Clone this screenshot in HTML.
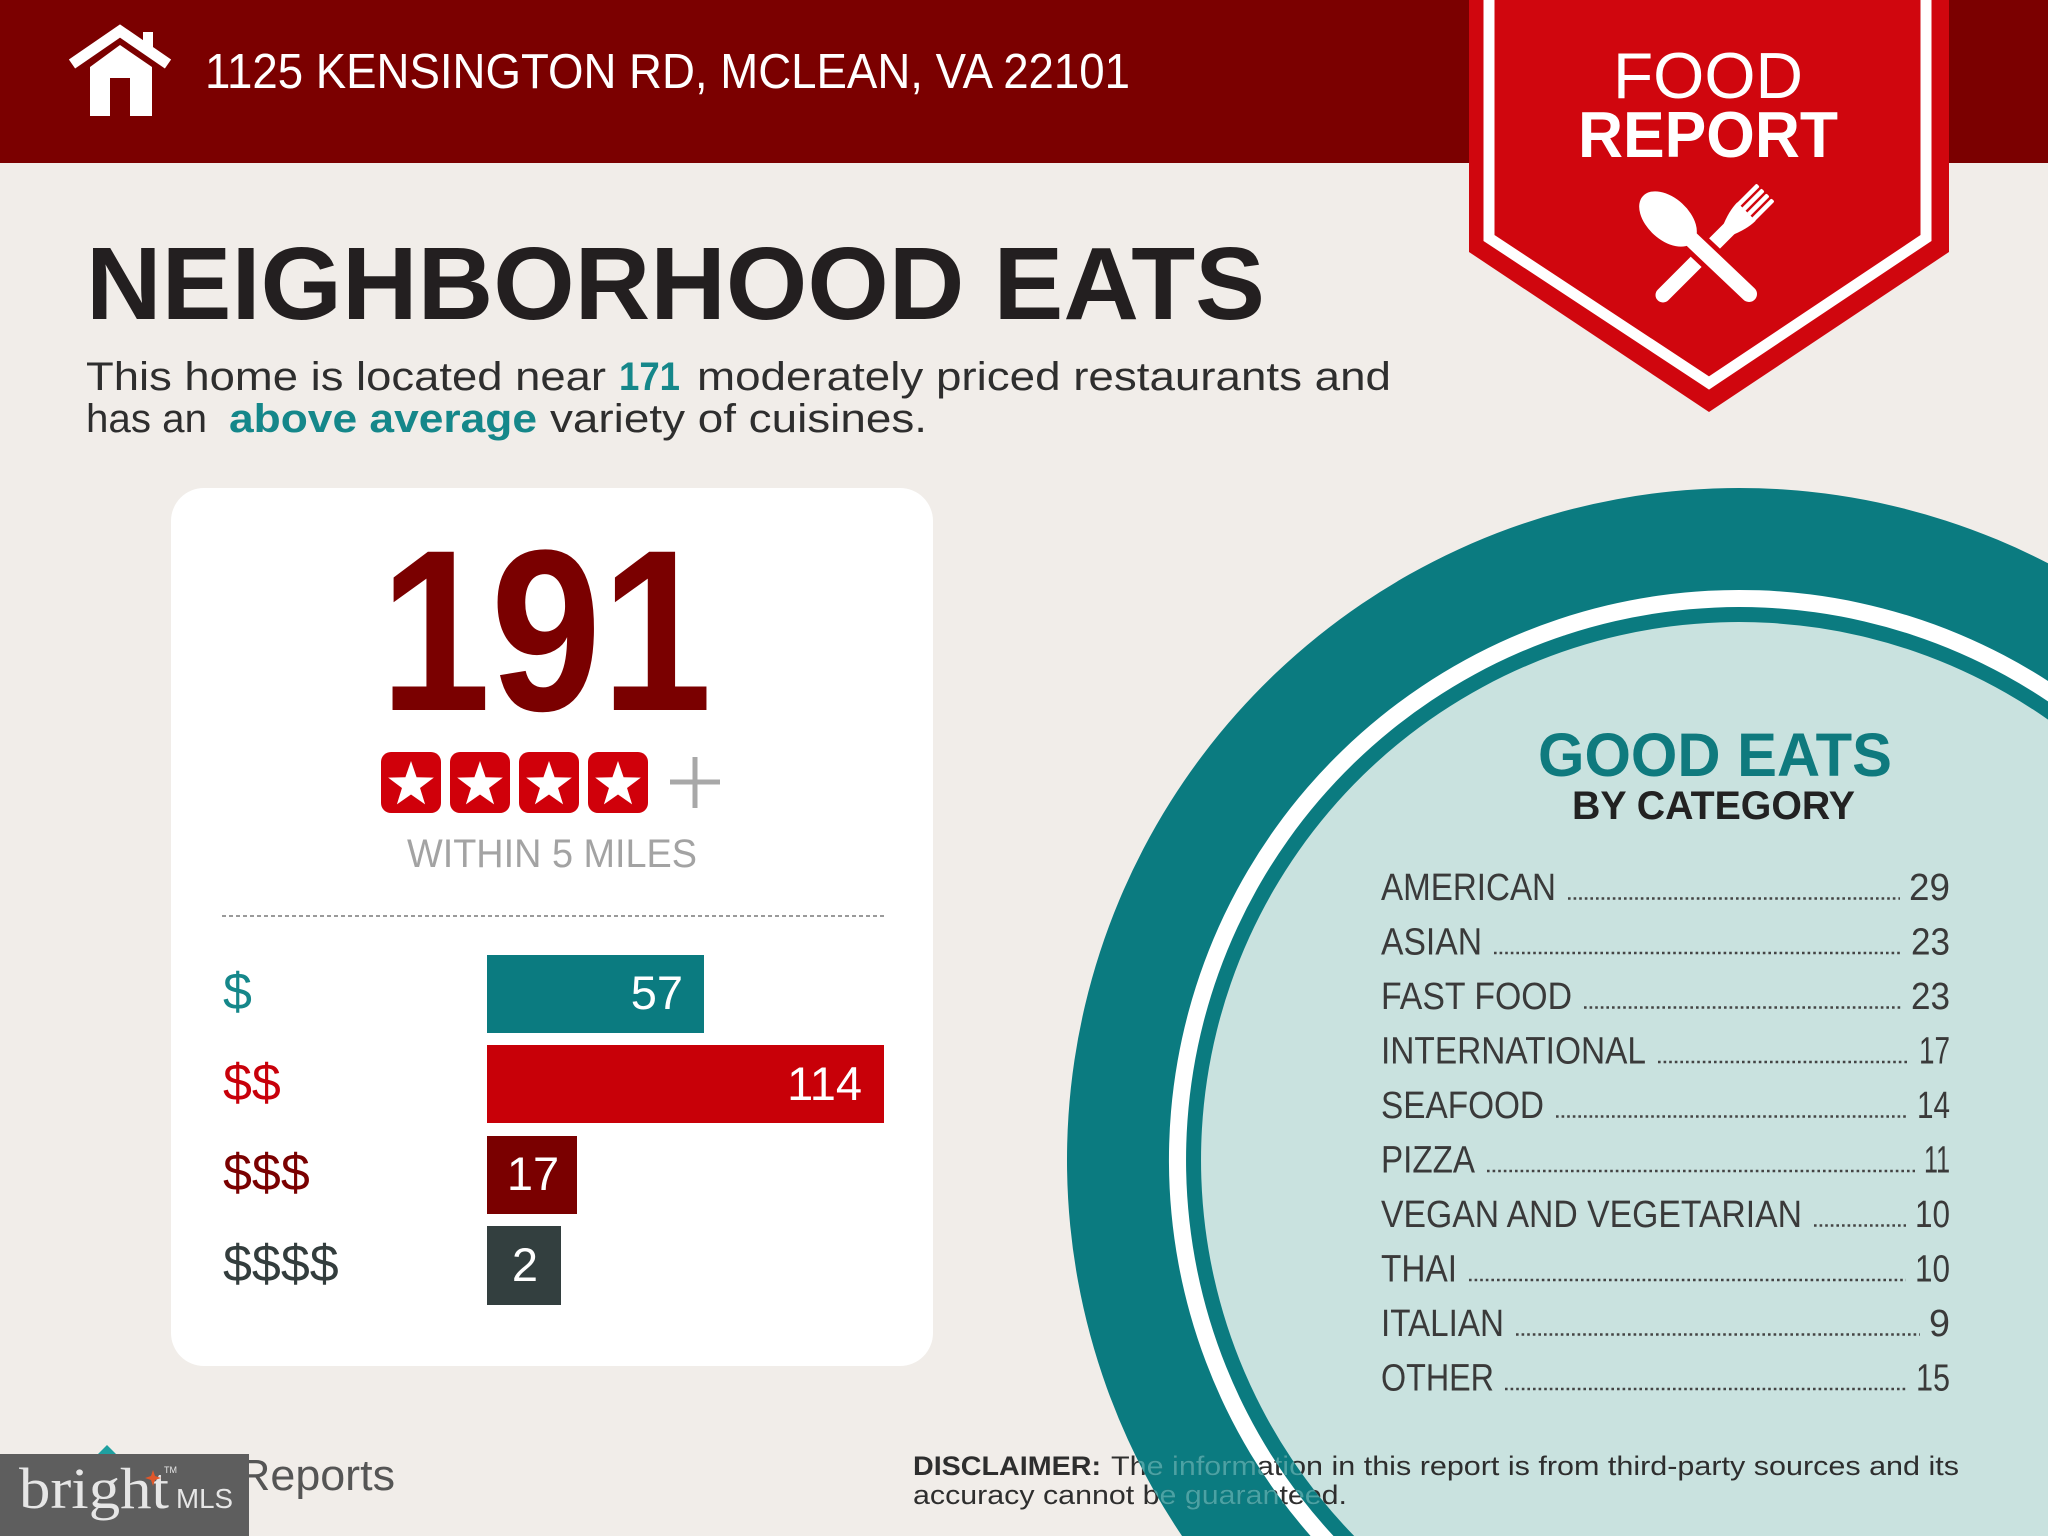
<!DOCTYPE html>
<html><head><meta charset="utf-8"><style>html,body{margin:0;padding:0;background:#f1ede9;width:2048px;height:1536px;overflow:hidden;}svg{display:block}</style></head>
<body>
<svg width="2048" height="1536" viewBox="0 0 2048 1536" xmlns="http://www.w3.org/2000/svg" font-family="'Liberation Sans', Arial, sans-serif" overflow="hidden">
<defs>
<clipPath id="ringclip">
<path clip-rule="evenodd" d="M1182.04,1536 A672,672 0 0,1 2048,563.25 L2048,1536 Z M1310.6,1536 A570,570 0 0,1 2048,681 L2048,1536 Z M1333.5,1536 A553,553 0 0,1 2048,701.4 L2048,1536 Z M1354.2,1536 A538,538 0 0,1 2048,719.6 L2048,1536 Z"/>
</clipPath>
</defs>
<rect x="0" y="0" width="2048" height="1536" fill="#f1ede9"/>
<!-- header -->
<rect x="0" y="0" width="2048" height="163" fill="#7b0000"/>
<!-- house icon -->
<g fill="#fff">
<polyline points="72,64 120,31 168,64" fill="none" stroke="#fff" stroke-width="11" stroke-linejoin="miter"/>
<rect x="143" y="32" width="10" height="20"/>
<polygon points="90,67 120,45 152,67 152,116 130,116 130,78 110,78 110,116 90,116"/>
</g>
<text x="205" y="88" font-size="49" fill="#fff" textLength="925" lengthAdjust="spacingAndGlyphs">1125 KENSINGTON RD, MCLEAN, VA 22101</text>

<!-- banner -->
<polygon points="1469,0 1949,0 1949,252 1709,412 1469,252" fill="#d0060e"/>
<polyline points="1489,0 1489,238 1709,383 1926,238 1926,0" fill="none" stroke="#fff" stroke-width="11" stroke-linejoin="miter"/>
<text x="1613" y="98" font-size="65" fill="#fff" textLength="190" lengthAdjust="spacingAndGlyphs">FOOD</text>
<text x="1578" y="157" font-size="65" font-weight="bold" fill="#fff" textLength="260" lengthAdjust="spacingAndGlyphs">REPORT</text>
<!-- fork -->
<g transform="translate(1663,295) rotate(-45)" fill="#fff">
<line x1="0" y1="0" x2="96" y2="0" stroke="#fff" stroke-width="15" stroke-linecap="round"/>
<path d="M90,-6 Q106,-13 118,-13 L118,13 Q106,13 90,6 Z"/>
<rect x="115" y="-12.75" width="30" height="4.5" rx="1.5"/>
<rect x="115" y="-5.75" width="30" height="4.5" rx="1.5"/>
<rect x="115" y="1.25" width="30" height="4.5" rx="1.5"/>
<rect x="115" y="8.25" width="30" height="4.5" rx="1.5"/>
</g>
<!-- spoon -->
<line x1="1692" y1="240" x2="1749" y2="294" stroke="#d0060e" stroke-width="26" stroke-linecap="round"/>
<line x1="1690" y1="238" x2="1749" y2="294" stroke="#fff" stroke-width="16" stroke-linecap="round"/>
<ellipse cx="1668" cy="219" rx="34" ry="21" fill="#fff" transform="rotate(42.4 1668 219)"/>

<!-- title -->
<text x="86" y="319" font-size="103" font-weight="bold" fill="#231f20" textLength="1179" lengthAdjust="spacingAndGlyphs">NEIGHBORHOOD EATS</text>
<g font-size="40" fill="#2e2e2e">
<text x="86" y="390" textLength="520" lengthAdjust="spacingAndGlyphs">This home is located near</text>
<text x="619" y="390" font-weight="bold" fill="#15878a" textLength="61" lengthAdjust="spacingAndGlyphs">171</text>
<text x="697" y="390" textLength="694" lengthAdjust="spacingAndGlyphs">moderately priced restaurants and</text>
<text x="86" y="432" textLength="121" lengthAdjust="spacingAndGlyphs">has an</text>
<text x="229" y="432" font-weight="bold" fill="#15878a" textLength="308" lengthAdjust="spacingAndGlyphs">above average</text>
<text x="550" y="432" textLength="377" lengthAdjust="spacingAndGlyphs">variety of cuisines.</text>
</g>

<!-- card -->
<rect x="171" y="488" width="762" height="878" rx="33" ry="33" fill="#ffffff"/>
<text x="380" y="710" font-size="230" font-weight="bold" fill="#7a0000" textLength="332" lengthAdjust="spacingAndGlyphs">191</text>
<g fill="#d0000a">
<rect x="381" y="752" width="60" height="61" rx="10"/>
<rect x="450" y="752" width="60" height="61" rx="10"/>
<rect x="519" y="752" width="60" height="61" rx="10"/>
<rect x="588" y="752" width="60" height="61" rx="10"/>
</g>
<g fill="#fff">
<path transform="translate(411,785)" d="M0,-24 L5.58,-7.69 L22.83,-7.42 L9.04,2.94 L14.11,19.42 L0,9.5 L-14.11,19.42 L-9.04,2.94 L-22.83,-7.42 L-5.58,-7.69 Z"/>
<path transform="translate(480,785)" d="M0,-24 L5.58,-7.69 L22.83,-7.42 L9.04,2.94 L14.11,19.42 L0,9.5 L-14.11,19.42 L-9.04,2.94 L-22.83,-7.42 L-5.58,-7.69 Z"/>
<path transform="translate(549,785)" d="M0,-24 L5.58,-7.69 L22.83,-7.42 L9.04,2.94 L14.11,19.42 L0,9.5 L-14.11,19.42 L-9.04,2.94 L-22.83,-7.42 L-5.58,-7.69 Z"/>
<path transform="translate(618,785)" d="M0,-24 L5.58,-7.69 L22.83,-7.42 L9.04,2.94 L14.11,19.42 L0,9.5 L-14.11,19.42 L-9.04,2.94 L-22.83,-7.42 L-5.58,-7.69 Z"/>
</g>
<g stroke="#a8a8a8" stroke-width="5">
<line x1="670" y1="782" x2="720" y2="782"/>
<line x1="695" y1="757" x2="695" y2="808"/>
</g>
<text x="407" y="867" font-size="40" fill="#a3a3a3" textLength="290" lengthAdjust="spacingAndGlyphs">WITHIN 5 MILES</text>
<line x1="222" y1="916" x2="884" y2="916" stroke="#9a9a9a" stroke-width="2" stroke-dasharray="4 3"/>

<!-- price rows -->
<g font-size="52">
<text x="223" y="1009" fill="#15878a">$</text>
<text x="223" y="1100" fill="#c8000a">$$</text>
<text x="223" y="1190" fill="#7a0000">$$$</text>
<text x="223" y="1281" fill="#333d3d">$$$$</text>
</g>
<rect x="487" y="955" width="217" height="78" fill="#0b7b80"/>
<rect x="487" y="1045" width="397" height="78" fill="#c80008"/>
<rect x="487" y="1136" width="90" height="78" fill="#7a0000"/>
<rect x="487" y="1226" width="74" height="79" fill="#333f3f"/>
<g font-size="47" fill="#fff">
<text x="683" y="1009" text-anchor="end">57</text>
<text x="862" y="1100" text-anchor="end">114</text>
<text x="533" y="1190" text-anchor="middle">17</text>
<text x="525" y="1281" text-anchor="middle">2</text>
</g>

<!-- circle (clipped to frame) -->
<path d="M1182.04,1536 A672,672 0 0,1 2048,563.25 L2048,1536 Z" fill="#0b7b80"/>
<path d="M1310.6,1536 A570,570 0 0,1 2048,681 L2048,1536 Z" fill="#ffffff"/>
<path d="M1333.5,1536 A553,553 0 0,1 2048,701.4 L2048,1536 Z" fill="#0b7b80"/>
<path d="M1354.2,1536 A538,538 0 0,1 2048,719.6 L2048,1536 Z" fill="#c9e2df"/>

<text x="1538" y="776" font-size="61" font-weight="bold" fill="#0f7a7e" textLength="354" lengthAdjust="spacingAndGlyphs">GOOD EATS</text>
<text x="1572" y="819" font-size="40" font-weight="bold" fill="#222" textLength="283" lengthAdjust="spacingAndGlyphs">BY CATEGORY</text>

<g font-size="38" fill="#3a3a3a">
<text x="1381" y="900" textLength="175" lengthAdjust="spacingAndGlyphs">AMERICAN</text>
<text x="1381" y="954.5" textLength="101" lengthAdjust="spacingAndGlyphs">ASIAN</text>
<text x="1381" y="1009" textLength="191" lengthAdjust="spacingAndGlyphs">FAST FOOD</text>
<text x="1381" y="1063.5" textLength="265" lengthAdjust="spacingAndGlyphs">INTERNATIONAL</text>
<text x="1381" y="1118" textLength="163" lengthAdjust="spacingAndGlyphs">SEAFOOD</text>
<text x="1381" y="1172.5" textLength="94" lengthAdjust="spacingAndGlyphs">PIZZA</text>
<text x="1381" y="1227" textLength="421" lengthAdjust="spacingAndGlyphs">VEGAN AND VEGETARIAN</text>
<text x="1381" y="1281.5" textLength="76" lengthAdjust="spacingAndGlyphs">THAI</text>
<text x="1381" y="1336" textLength="123" lengthAdjust="spacingAndGlyphs">ITALIAN</text>
<text x="1381" y="1390.5" textLength="113" lengthAdjust="spacingAndGlyphs">OTHER</text>

<text x="1909" y="900" textLength="41" lengthAdjust="spacingAndGlyphs">29</text>
<text x="1911" y="954.5" textLength="39" lengthAdjust="spacingAndGlyphs">23</text>
<text x="1911" y="1009" textLength="39" lengthAdjust="spacingAndGlyphs">23</text>
<text x="1919" y="1063.5" textLength="31" lengthAdjust="spacingAndGlyphs">17</text>
<text x="1917" y="1118" textLength="33" lengthAdjust="spacingAndGlyphs">14</text>
<text x="1924" y="1172.5" textLength="26" lengthAdjust="spacingAndGlyphs">11</text>
<text x="1915" y="1227" textLength="35" lengthAdjust="spacingAndGlyphs">10</text>
<text x="1915" y="1281.5" textLength="35" lengthAdjust="spacingAndGlyphs">10</text>
<text x="1929" y="1336" textLength="21" lengthAdjust="spacingAndGlyphs">9</text>
<text x="1916" y="1390.5" textLength="34" lengthAdjust="spacingAndGlyphs">15</text>
</g>
<g stroke="#444" stroke-width="2.6" stroke-dasharray="2.6 3">
<line x1="1568" y1="898.5" x2="1900" y2="898.5"/>
<line x1="1494" y1="953" x2="1902" y2="953"/>
<line x1="1584" y1="1007.5" x2="1902" y2="1007.5"/>
<line x1="1658" y1="1062" x2="1910" y2="1062"/>
<line x1="1556" y1="1116.5" x2="1908" y2="1116.5"/>
<line x1="1487" y1="1171" x2="1915" y2="1171"/>
<line x1="1814" y1="1225.5" x2="1906" y2="1225.5"/>
<line x1="1469" y1="1280" x2="1906" y2="1280"/>
<line x1="1516" y1="1334.5" x2="1920" y2="1334.5"/>
<line x1="1505" y1="1389" x2="1907" y2="1389"/>
</g>

<!-- disclaimer -->
<g font-size="27" fill="#2e2e2e">
<text x="913" y="1475" font-weight="bold" textLength="188" lengthAdjust="spacingAndGlyphs">DISCLAIMER:</text>
<text x="1111" y="1475" textLength="848" lengthAdjust="spacingAndGlyphs">The information in this report is from third-party sources and its</text>
<text x="913" y="1504" textLength="434" lengthAdjust="spacingAndGlyphs">accuracy cannot be guaranteed.</text>
</g>
<g font-size="27" fill="#4aa3a5" clip-path="url(#ringclip)">
<text x="1111" y="1475" textLength="848" lengthAdjust="spacingAndGlyphs">The information in this report is from third-party sources and its</text>
<text x="913" y="1504" textLength="434" lengthAdjust="spacingAndGlyphs">accuracy cannot be guaranteed.</text>
</g>

<!-- bottom-left logo -->
<polygon points="97,1455 107,1445 117,1455" fill="#1fa0a0"/>
<text x="238" y="1490" font-size="44" fill="#555" textLength="157" lengthAdjust="spacingAndGlyphs">Reports</text>
<rect x="0" y="1454" width="249" height="82" fill="#5e5e5e"/>
<text x="19" y="1508" font-family="'Liberation Serif', serif" font-size="58" fill="#e6e6e6" textLength="150" lengthAdjust="spacingAndGlyphs">bright</text>
<path d="M153,1470 L155,1476 L161,1478 L155,1480 L153,1486 L151,1480 L145,1478 L151,1476 Z" fill="#e0572a"/>
<text x="164" y="1473" font-size="9" fill="#e6e6e6">TM</text>
<text x="176" y="1508" font-size="28" fill="#e6e6e6" textLength="57" lengthAdjust="spacingAndGlyphs">MLS</text>
</svg>
</body></html>
